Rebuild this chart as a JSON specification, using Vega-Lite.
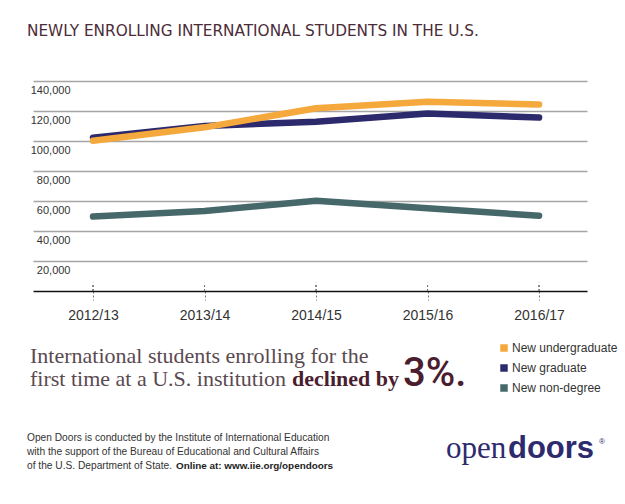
{
  "$schema": "https://vega.github.io/schema/vega-lite/v6.json",
  "width": 554,
  "height": 210,
  "autosize": {"type": "none"},
  "padding": {"left": 33, "top": 81, "right": 38, "bottom": 213},
  "background": "white",
  "config": {"view": {"stroke": null}},
  "title": {
    "text": "NEWLY ENROLLING INTERNATIONAL STUDENTS IN THE U.S.",
    "anchor": "start",
    "frame": "group",
    "dx": -6,
    "offset": 29,
    "baseline": "alphabetic",
    "font": "DejaVu Sans",
    "fontSize": 15.3,
    "fontWeight": "normal",
    "color": "#4b2c37"
  },
  "datasets": {
    "enroll": [
      {"year": "2012/13", "type": "New non-degree", "students": 49600},
      {"year": "2013/14", "type": "New non-degree", "students": 53300},
      {"year": "2014/15", "type": "New non-degree", "students": 60200},
      {"year": "2015/16", "type": "New non-degree", "students": 55100},
      {"year": "2016/17", "type": "New non-degree", "students": 50200},
      {"year": "2012/13", "type": "New graduate", "students": 102200},
      {"year": "2013/14", "type": "New graduate", "students": 110000},
      {"year": "2014/15", "type": "New graduate", "students": 112900},
      {"year": "2015/16", "type": "New graduate", "students": 118400},
      {"year": "2016/17", "type": "New graduate", "students": 115600},
      {"year": "2012/13", "type": "New undergraduate", "students": 100200},
      {"year": "2013/14", "type": "New undergraduate", "students": 109100},
      {"year": "2014/15", "type": "New undergraduate", "students": 121800},
      {"year": "2015/16", "type": "New undergraduate", "students": 126200},
      {"year": "2016/17", "type": "New undergraduate", "students": 124400}
    ]
  },
  "layer": [
    {
      "data": {"name": "enroll"},
      "mark": {"type": "rule", "strokeDash": [2, 2], "color": "#777", "strokeWidth": 1},
      "encoding": {
        "x": {"field": "year", "type": "ordinal"},
        "y": {"datum": 0},
        "y2": {"datum": 5400}
      }
    },
    {
      "data": {"name": "enroll"},
      "mark": {"type": "line", "strokeWidth": 6.5, "strokeCap": "round", "strokeJoin": "round"},
      "encoding": {
        "x": {
          "field": "year",
          "type": "ordinal",
          "scale": {"type": "point", "padding": 0.484, "align": 0.556},
          "axis": {
            "title": null,
            "labelAngle": 0,
            "labelAlign": "center",
            "labelBaseline": "top",
            "domainColor": "#111",
            "domainWidth": 1.5,
            "tickColor": "#777",
            "tickDash": [2, 2],
            "tickSize": 9,
            "tickWidth": 1,
            "labelPadding": 8,
            "labelFont": "Liberation Sans",
            "labelFontSize": 14,
            "labelColor": "#333"
          }
        },
        "y": {
          "field": "students",
          "type": "quantitative",
          "scale": {"domain": [0, 140000], "nice": false},
          "axis": {
            "title": null,
            "values": [20000, 40000, 60000, 80000, 100000, 120000, 140000],
            "tickCount": 20,
            "format": ",d",
            "grid": true,
            "gridColor": "#a5a5a5",
            "gridWidth": 1.3,
            "domain": false,
            "ticks": false,
            "labelOverlap": false,
            "labelAlign": "right",
            "labelBaseline": "top",
            "labelPadding": -37,
            "labelOffset": 3,
            "labelFont": "Liberation Sans",
            "labelFontSize": 11,
            "labelColor": "#333"
          }
        },
        "color": {
          "field": "type",
          "type": "nominal",
          "scale": {
            "domain": ["New undergraduate", "New graduate", "New non-degree"],
            "range": ["#F5A83B", "#2C2A6C", "#46686A"]
          },
          "legend": {
            "orient": "none",
            "legendX": 465,
            "legendY": 261,
            "title": null,
            "symbolType": "square",
            "symbolSize": 56,
            "labelFont": "Liberation Sans",
            "labelFontSize": 12,
            "labelColor": "#333",
            "rowPadding": 8,
            "padding": 0,
            "labelOffset": 2,
            "encode": {
              "symbols": {
                "update": {
                  "fill": {"scale": "color", "field": "value"},
                  "strokeWidth": {"value": 0}
                }
              }
            }
          }
        }
      }
    },
    {
      "data": {"values": [{"t": "International students enrolling for the"}]},
      "mark": {"type": "text", "x": -3, "y": 282, "align": "left", "baseline": "alphabetic", "font": "Liberation Serif", "fontSize": 22, "color": "#5a4a50"},
      "encoding": {"text": {"field": "t"}}
    },
    {
      "data": {"values": [{"t": "first time at a U.S. institution"}]},
      "mark": {"type": "text", "x": -3, "y": 305, "align": "left", "baseline": "alphabetic", "font": "Liberation Serif", "fontSize": 22, "color": "#5a4a50"},
      "encoding": {"text": {"field": "t"}}
    },
    {
      "data": {"values": [{"t": "declined by"}]},
      "mark": {"type": "text", "x": 259, "y": 305, "align": "left", "baseline": "alphabetic", "font": "Liberation Serif", "fontSize": 22, "fontWeight": "bold", "color": "#4a1e2f"},
      "encoding": {"text": {"field": "t"}}
    },
    {
      "data": {"values": [{"t": "3%."}]},
      "mark": {"type": "text", "x": 370, "y": 305, "align": "left", "baseline": "alphabetic", "font": "Roboto", "fontSize": 40, "fontWeight": 500, "color": "#4a1e2f"},
      "encoding": {"text": {"field": "t"}}
    },
    {
      "data": {"values": [{"t": "sep"}]},
      "mark": {"type": "rule", "x": -6, "x2": 574, "y": 335, "color": "#d0d0d0", "strokeWidth": 1},
      "encoding": {}
    },
    {
      "data": {"values": [{"t": "Open Doors is conducted by the Institute of International Education"}]},
      "mark": {"type": "text", "x": -6, "y": 357, "align": "left", "baseline": "middle", "font": "Liberation Sans", "fontSize": 10.2, "color": "#333"},
      "encoding": {"text": {"field": "t"}}
    },
    {
      "data": {"values": [{"t": "with the support of the Bureau of Educational and Cultural Affairs"}]},
      "mark": {"type": "text", "x": -6, "y": 371, "align": "left", "baseline": "middle", "font": "Liberation Sans", "fontSize": 10.2, "color": "#333"},
      "encoding": {"text": {"field": "t"}}
    },
    {
      "data": {"values": [{"t": "of the U.S. Department of State."}]},
      "mark": {"type": "text", "x": -6, "y": 385, "align": "left", "baseline": "middle", "font": "Liberation Sans", "fontSize": 10.2, "color": "#333"},
      "encoding": {"text": {"field": "t"}}
    },
    {
      "data": {"values": [{"t": "Online at: www.iie.org/opendoors"}]},
      "mark": {"type": "text", "x": 143, "y": 385, "align": "left", "baseline": "middle", "font": "Liberation Sans", "fontSize": 9.9, "fontWeight": "bold", "color": "#222"},
      "encoding": {"text": {"field": "t"}}
    },
    {
      "data": {"values": [{"t": "open"}]},
      "mark": {"type": "text", "x": 413, "y": 377, "align": "left", "baseline": "alphabetic", "font": "Liberation Serif", "fontSize": 31, "color": "#2d2a6e"},
      "encoding": {"text": {"field": "t"}}
    },
    {
      "data": {"values": [{"t": "doors"}]},
      "mark": {"type": "text", "x": 475, "y": 377, "align": "left", "baseline": "alphabetic", "font": "Liberation Sans", "fontSize": 31, "fontWeight": "bold", "color": "#2d2a6e"},
      "encoding": {"text": {"field": "t"}}
    },
    {
      "data": {"values": [{"t": "®"}]},
      "mark": {"type": "text", "x": 566, "y": 361, "align": "left", "baseline": "middle", "font": "Liberation Sans", "fontSize": 8, "color": "#2d2a6e"},
      "encoding": {"text": {"field": "t"}}
    }
  ]
}
